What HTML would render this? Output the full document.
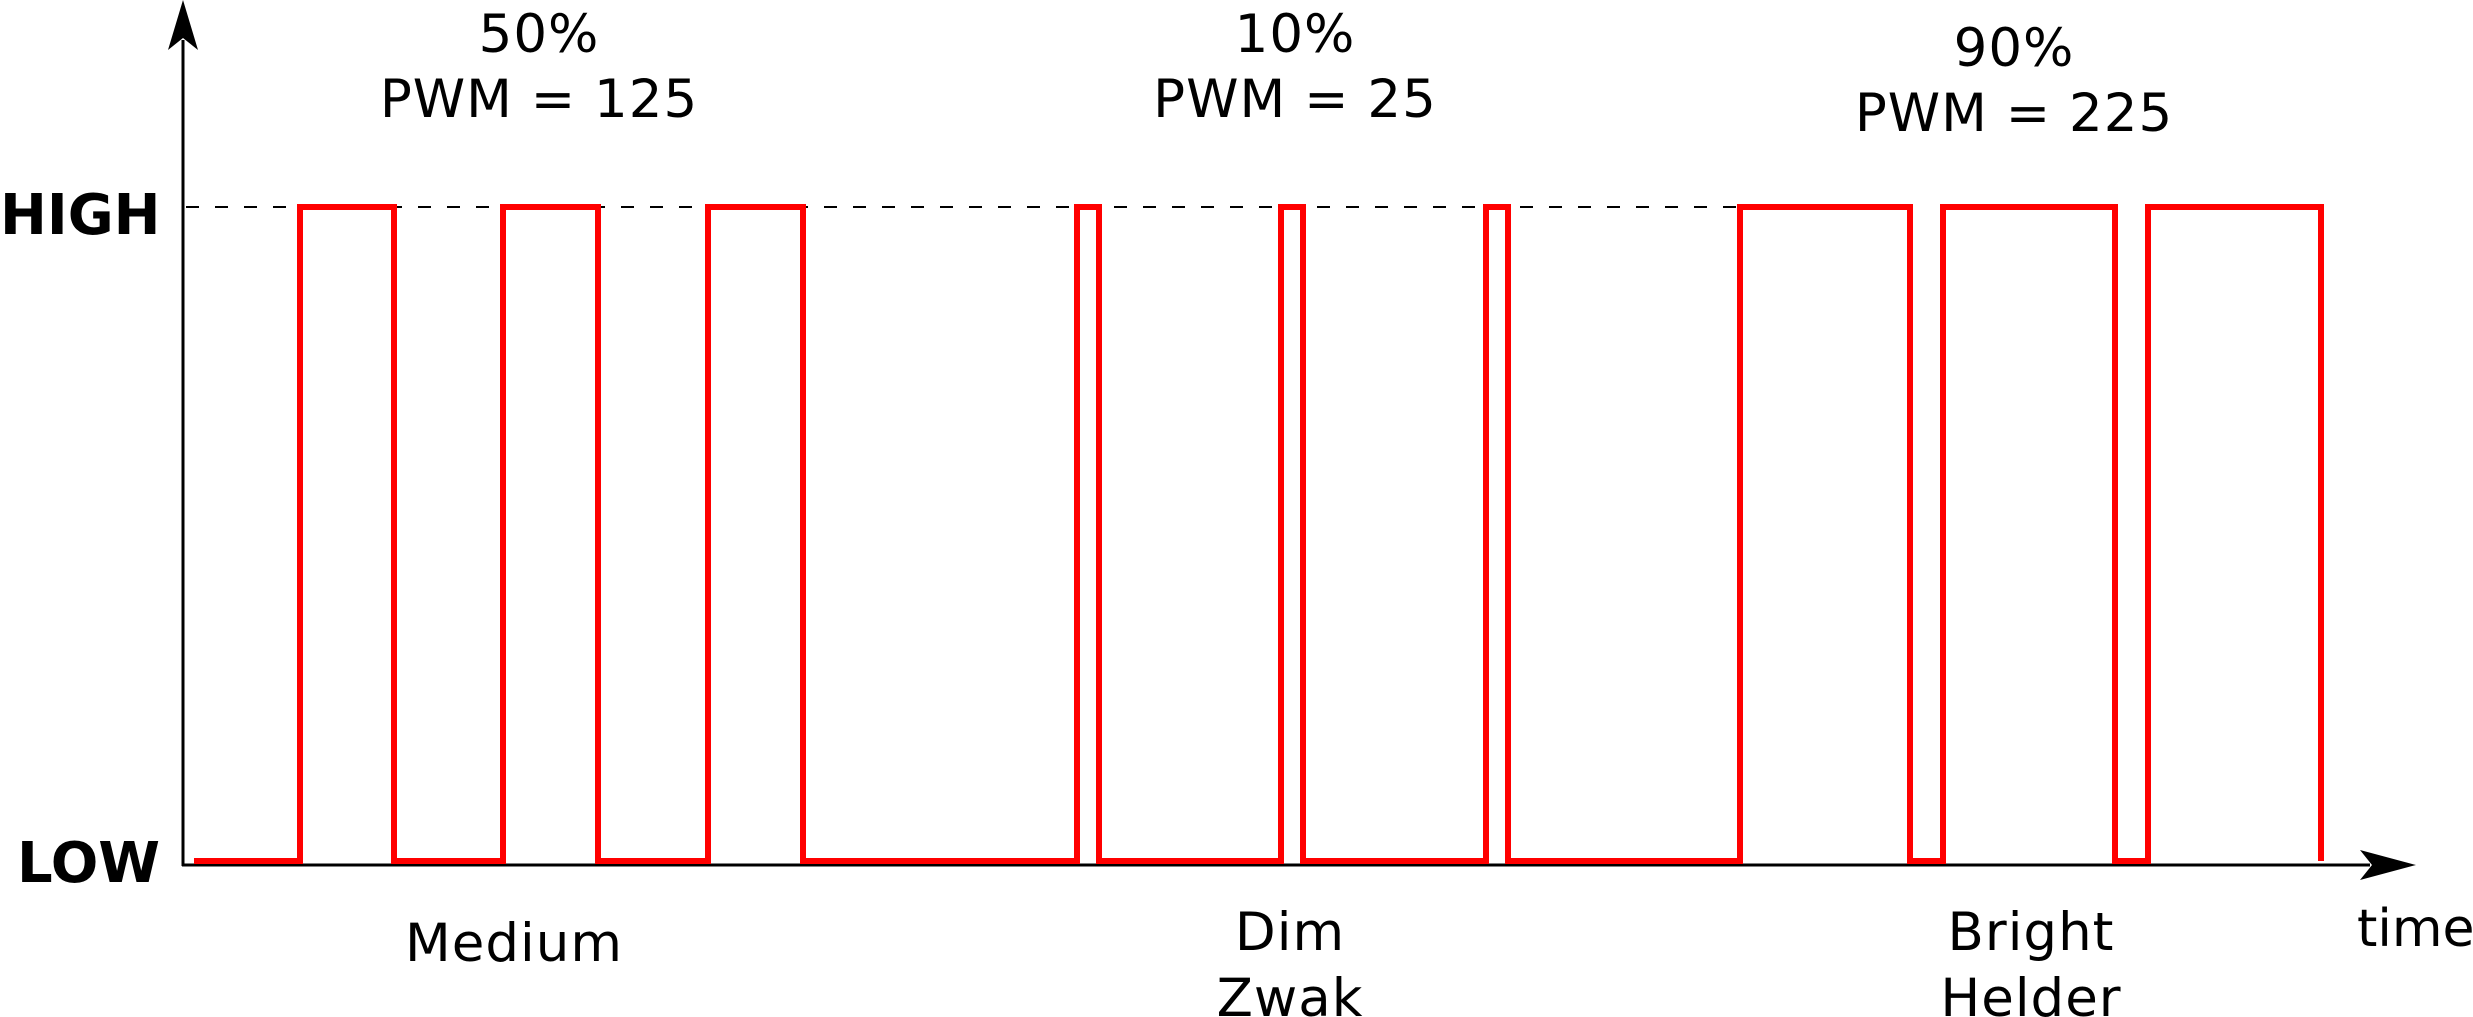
<!DOCTYPE html>
<html><head><meta charset="utf-8"><style>
html,body{margin:0;padding:0;background:#fff;}
svg{display:block;font-family:"DejaVu Sans","Liberation Sans",sans-serif;}
</style></head><body>
<svg id="chart" width="2473" height="1017" viewBox="0 0 2473 1017" xmlns="http://www.w3.org/2000/svg">
<g id="axes">
  <line x1="183" y1="40" x2="183" y2="866" stroke="#000" stroke-width="3"/>
  <path d="M183 0 L198 50 L183 38 L168 50 Z" fill="#000"/>
  <line x1="182" y1="865" x2="2370" y2="865" stroke="#000" stroke-width="3"/>
  <path d="M2416 865 L2360 850 L2372 865 L2360 880 Z" fill="#000"/>
  <line x1="186" y1="207" x2="1740" y2="207" stroke="#000" stroke-width="2" stroke-dasharray="13,16"/>
  <text x="0" y="234" font-size="56" font-weight="bold">HIGH</text>
  <text x="17" y="882" font-size="56" font-weight="bold">LOW</text>
  <text x="2357" y="946" font-size="52">time</text>
</g>
<g id="labels"></g>
<g id="signal"></g>
</svg>
<script>
// data (time units)
const groupNames = ["Medium", "Dim\nZwak", "Bright\nHelder"];
const dutyLabels = ["50%", "10%", "90%"];
const pwmLabels = ["PWM = 125", "PWM = 25", "PWM = 225"];
const riseTimes = [5.85, 16.0, 26.25, 44.7, 54.9, 65.15, 77.85, 88.0, 98.25];
const fallTimes = [10.55, 20.75, 31.0, 45.8, 56.0, 66.25, 86.35, 96.6, 106.9];
const startTime = 0.55;
const dutyCenters = [17.8, 55.6, 91.55];
const nameCenters = [16.55, 55.35, 92.4];
const levelHigh = 1, levelLow = 0;

const x = t => 183 + t * 20;
const y = v => 861 - v * (861 - 207);

const NS = "http://www.w3.org/2000/svg";
const sig = document.getElementById("signal");
let d = "M" + x(startTime) + " " + y(levelLow);
for (let i = 0; i < riseTimes.length; i++) {
  d += " L" + x(riseTimes[i]) + " " + y(levelLow);
  d += " L" + x(riseTimes[i]) + " " + y(levelHigh);
  d += " L" + x(fallTimes[i]) + " " + y(levelHigh);
  d += " L" + x(fallTimes[i]) + " " + y(levelLow);
}
const p = document.createElementNS(NS, "path");
p.setAttribute("d", d);
p.setAttribute("fill", "none");
p.setAttribute("stroke", "#ff0000");
p.setAttribute("stroke-width", "6");


sig.appendChild(p);

const lab = document.getElementById("labels");
function txt(str, cx, cy, name) {
  const t = document.createElementNS(NS, "text");
  t.setAttribute("x", cx);
  t.setAttribute("y", cy);
  t.setAttribute("font-size", "53");
  t.setAttribute("letter-spacing", "1");
  t.setAttribute("text-anchor", "middle");
  t.textContent = str;
  
  
  lab.appendChild(t);
}
const dutyY = [52, 52, 66];
const pwmY = [117, 117, 131];
for (let i = 0; i < groupNames.length; i++) {
  txt(dutyLabels[i], x(dutyCenters[i]), dutyY[i], "duty-label");
  txt(pwmLabels[i], x(dutyCenters[i]), pwmY[i], "pwm-value-label");
  const lines = groupNames[i].split("\n");
  const base = lines.length > 1 ? 950 : 961;
  lines.forEach((ln, j) => txt(ln, x(nameCenters[i]), base + j * 66, "brightness-label"));
}
</script>
</body></html>
